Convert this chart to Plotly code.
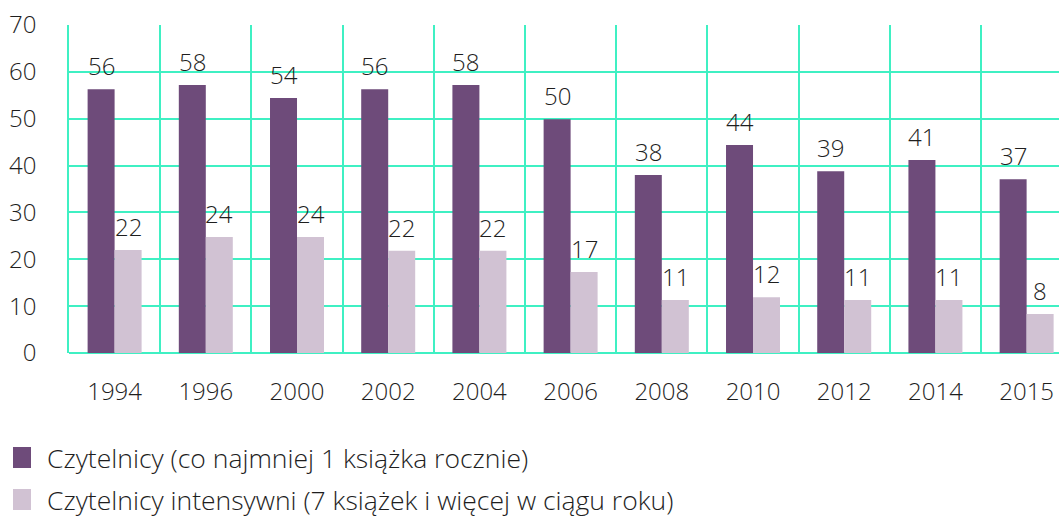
import plotly.graph_objects as go

years = ["1994", "1996", "2000", "2002", "2004", "2006", "2008", "2010", "2012", "2014", "2015"]
readers = [56.3, 57.2, 54.4, 56.3, 57.2, 49.9, 38.0, 44.4, 38.8, 41.2, 37.1]
intensive = [22.0, 24.75, 24.75, 21.8, 21.8, 17.3, 11.3, 11.9, 11.3, 11.3, 8.3]
readers_labels = ["56", "58", "54", "56", "58", "50", "38", "44", "39", "41", "37"]
intensive_labels = ["22", "24", "24", "22", "22", "17", "11", "12", "11", "11", "8"]
series_names = ["Czytelnicy (co najmniej 1 książka rocznie)",
                "Czytelnicy intensywni (7 książek i więcej w ciągu roku)"]
y_ticks = [0, 10, 20, 30, 40, 50, 60, 70]

DARK = "#6E4B7A"
LIGHT = "#D1C2D3"
GRID = "#3FF0C3"
TXT = "#1E1E1E"
FONT = "Open Sans"
FS = 24
LFS = 26.5
W = 300

xpos = list(range(len(years)))
BARGAP = 0.408
half = (1 - BARGAP) / 4  # offset of each bar centre from category centre

fig = go.Figure()
fig.add_trace(go.Bar(x=xpos, y=readers, name=series_names[0], marker_color=DARK,
                     marker_line_width=0, showlegend=False, hoverinfo="skip"))
fig.add_trace(go.Bar(x=xpos, y=intensive, name=series_names[1], marker_color=LIGHT,
                     marker_line_width=0, showlegend=False, hoverinfo="skip"))

def f(size):
    return dict(size=size, color=TXT, family=FONT, weight=W)

annotations = []
for i, (v, t) in enumerate(zip(readers, readers_labels)):
    annotations.append(dict(x=i - half, y=v, text=t, showarrow=False, xref="x", yref="y",
                            yanchor="bottom", yshift=5, font=f(FS)))
for i, (v, t) in enumerate(zip(intensive, intensive_labels)):
    annotations.append(dict(x=i + half, y=v, text=t, showarrow=False, xref="x", yref="y",
                            yanchor="bottom", yshift=5, font=f(FS)))

# legend built from shapes + text
legend_rows = [(458, DARK, series_names[0]), (500, LIGHT, series_names[1])]
shapes = []
for yc, col, name in legend_rows:
    shapes.append(dict(type="rect", xref="paper", yref="paper",
                       x0=(13 - 69) / 990, x1=(31 - 69) / 990,
                       y0=(353 - (yc + 10)) / 328, y1=(353 - (yc - 11)) / 328,
                       fillcolor=col, line_width=0))
    annotations.append(dict(x=(45 - 69) / 990, y=(353 - yc) / 328, xref="paper", yref="paper",
                            xanchor="left", yanchor="middle", text=name, showarrow=False,
                            font=f(LFS)))

fig.update_layout(
    width=1059, height=518,
    margin=dict(l=69, r=0, t=25, b=165),
    paper_bgcolor="white", plot_bgcolor="white",
    barmode="group", bargap=BARGAP, bargroupgap=0,
    font=f(FS),
    annotations=annotations, shapes=shapes,
    showlegend=False,
)
fig.update_xaxes(
    range=[-0.5, 10.355], tickmode="array", tickvals=xpos, ticktext=years,
    showgrid=False, zeroline=False, showline=False, ticks="",
    ticklabelstandoff=22, tickfont=f(FS),
    minor=dict(tickmode="linear", tick0=-0.5, dtick=1, showgrid=True,
               gridcolor=GRID, gridwidth=1.5, ticks=""),
)
fig.update_yaxes(
    range=[0, 70], tickmode="array", tickvals=y_ticks,
    showgrid=True, gridcolor=GRID, gridwidth=1.5,
    zeroline=True, zerolinecolor=GRID, zerolinewidth=1.5,
    showline=True, linecolor=GRID, linewidth=1.5,
    ticks="", ticklabelstandoff=26,
    tickfont=f(FS),
)

fig.write_html("out.html", config={"displayModeBar": False},
               post_script="document.body.style.margin='0';document.body.style.overflow='hidden';")
